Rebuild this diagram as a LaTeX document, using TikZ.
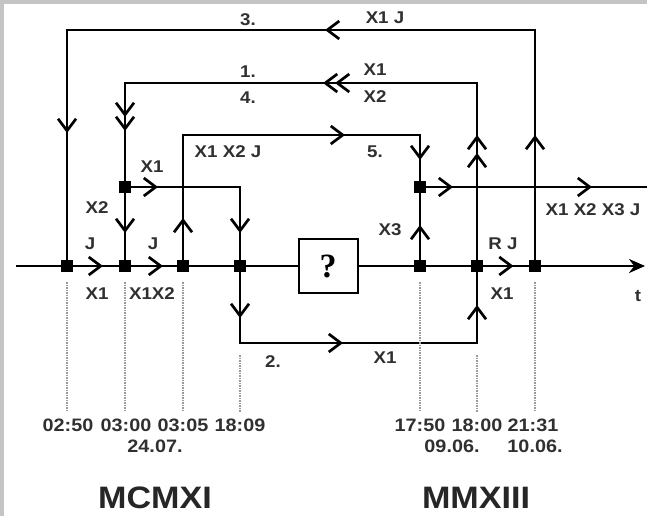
\documentclass[tikz,border=0pt]{standalone}
\usepackage{fontspec}
\usepackage{graphicx}
\setmainfont{Liberation Sans}[FakeStretch=1.1]
\newfontfamily\qfont{Liberation Serif}
\usetikzlibrary{arrows.meta,decorations.markings}
\definecolor{framec}{HTML}{C4C4C4}
\definecolor{lbl}{HTML}{303030}
\definecolor{dotc}{HTML}{9A9A9A}
\begin{document}
\begin{tikzpicture}[x=1pt,y=-1pt,
  conn/.style={line width=2.7pt,draw=black},
  am/.style={postaction={decorate,decoration={markings,mark=at position #1 with {\arrow{Straight Barb[length=12pt,width=18pt]}}}}},
  sq/.style={rectangle,fill=black,minimum size=12pt,inner sep=0pt},
  lab/.style={inner sep=0pt,text=lbl,font=\fontsize{17}{17}\selectfont\bfseries},
  tim/.style={inner sep=0pt,text=lbl,font=\fontsize{18}{18}\selectfont\bfseries},
  big/.style={inner sep=0pt,text=black!85,font=\fontsize{31}{31}\selectfont\bfseries},
  dots/.style={draw=dotc,line width=1.4pt,dash pattern=on 1.5pt off 1pt}]
\useasboundingbox (0,0) rectangle (647,516);
\fill[framec] (0,0) rectangle (647,516);
\fill[white] (4,4) rectangle (647,516);
% junctions and corners
\coordinate (ts) at (16,266);
\coordinate (te) at (645,266);
\coordinate (A) at (67,266);
\coordinate (B) at (125,266);
\coordinate (C) at (183,266);
\coordinate (D) at (240,266);
\coordinate (E) at (420,266);
\coordinate (F) at (477,266);
\coordinate (G) at (535,266);
\coordinate (H) at (125,187);
\coordinate (K) at (420,187);
\coordinate (t3r) at (535,30);
\coordinate (t3l) at (67,30);
\coordinate (t1r) at (477,83);
\coordinate (t1l) at (125,83);
\coordinate (t5l) at (183,135);
\coordinate (t5r) at (420,135);
\coordinate (tx) at (240,187);
\coordinate (t2l) at (240,343);
\coordinate (t2r) at (477,343);
\coordinate (re) at (647,187);
\node[draw=black,line width=2pt,fill=white,minimum width=59pt,minimum height=54pt,inner sep=0pt] (Q) at (328,266) {\qfont\bfseries\fontsize{34}{34}\selectfont ?};
% connectors
\draw[conn,am=131pt,am=446pt,am=807pt] (G) -- (t3r) -- (t3l) -- (A);
\draw[conn,am=113pt,am=131pt,am=325pt,am=337pt,am=569pt,am=583pt] (F) -- (t1r) -- (t1l) -- (H);
\draw[conn,am=46pt] (H) -- (B);
\draw[conn,am=33pt,am=161pt] (H) -- (tx) -- (D);
\draw[conn,am=48pt,am=293pt,am=393pt] (C) -- (t5l) -- (t5r) -- (K);
\draw[conn,am=41pt] (E) -- (K);
\draw[conn,am=33pt,am=172pt] (K) -- (re);
\draw[conn,am=52pt,am=180pt,am=352pt] (D) -- (t2l) -- (t2r) -- (F);
\draw[conn,am=87pt,am=147pt] (ts) -- (A) -- (B) -- (C) -- (D) -- (Q.west);
\draw[conn,am=155pt,-{Stealth[length=16pt,width=14pt]}] (Q.east) -- (E) -- (F) -- (G) -- (te);
% junction squares
\foreach \p in {A,B,C,D,E,F,G,H,K} \node[sq] (s\p) at (\p) {};
% dotted time markers
\foreach \p/\ya in {A/282,B/282,C/282,D/355,E/282,F/355,G/282}{
  \coordinate (u\p) at (\p |- 0,\ya);
  \coordinate (w\p) at (\p |- 0,412);
  \draw[dots] (u\p) -- (w\p);
}
% labels
\node[lab] (l3) at (248,20) {3.};
\node[lab] (l3b) at (385,18) {X1 J};
\node[lab] (l1) at (248,72) {1.};
\node[lab] (l4) at (248,98) {4.};
\node[lab] (l1b) at (375,70) {X1};
\node[lab] (l4b) at (375,97) {X2};
\node[lab] (l5a) at (228,152) {X1 X2 J};
\node[lab] (l5) at (375,152) {5.};
\node[lab] (lhx) at (152,167) {X1};
\node[lab] (lhy) at (97,208) {X2};
\node[lab] (lx3) at (390,230) {X3};
\node[lab] (lout) at (593,210) {X1 X2 X3 J};
\node[lab] (lj1) at (90,244) {J};
\node[lab] (lj2) at (153,244) {J};
\node[lab] (lrj) at (503,244) {R J};
\node[lab] (lb1) at (97,294) {X1};
\node[lab] (lb2) at (152,294) {X1X2};
\node[lab] (lb3) at (502,294) {X1};
\node[lab] (lt) at (638,296) {t};
\node[lab] (l2) at (273,362) {2.};
\node[lab] (l2b) at (385,358) {X1};
% times
\node[tim] (ta) at (68,425) {02:50};
\node[tim] (tb) at (126,425) {03:00};
\node[tim] (tc) at (183,425) {03:05};
\node[tim] (td) at (240,425) {18:09};
\node[tim] (tdate1) at (155,446) {24.07.};
\node[tim] (te1) at (420,425) {17:50};
\node[tim] (tf1) at (477,425) {18:00};
\node[tim] (tg1) at (533,425) {21:31};
\node[tim] (tdate2) at (452,446) {09.06.};
\node[tim] (tdate3) at (535,446) {10.06.};
\node[big] (y1) at (155,498) {MCMXI};
\node[big] (y2) at (476,498) {MMXIII};
\end{tikzpicture}
\end{document}
